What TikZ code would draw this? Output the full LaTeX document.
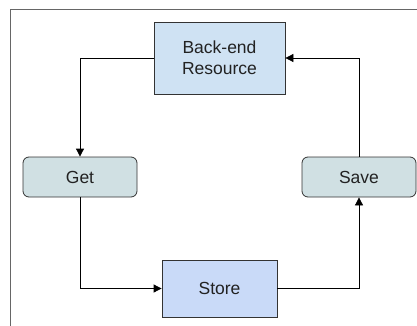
\documentclass[tikz,border=0pt]{standalone}
\usepackage{fontspec}
\setmainfont{Liberation Sans}
\usetikzlibrary{arrows.meta, positioning}
\definecolor{cBack}{HTML}{CFE2F3}
\definecolor{cStore}{HTML}{C9DAF8}
\definecolor{cStep}{HTML}{D0E0E3}
\definecolor{cLine}{HTML}{333333}
\definecolor{cText}{HTML}{222222}
\begin{document}
\begin{tikzpicture}[x=1pt, y=-1pt, line width=0.8pt,
      bx/.style={draw=cLine, align=center, inner sep=0pt, text=cText, font=\fontsize{17.5}{21}\selectfont},
      rbx/.style={bx, rounded corners=6pt, fill=cStep, minimum width=114pt, minimum height=40pt},
      conn/.style={draw=black, -{Triangle[length=8pt,width=8pt]}}]
    \useasboundingbox (0,0) rectangle (417,326);
    % frame
    \draw[draw=gray!80!black] (10.5,326) -- (10.5,9) -- (417,9);
    % steps
    \node[bx, fill=cBack, minimum width=131pt, minimum height=72pt] (backend) at (219.5,58) {Back-end\\Resource};
    \node[rbx] (get)  at (80,177)  {Get};
    \node[rbx] (save) at (359,177) {Save};
    \node[bx, fill=cStore, minimum width=115pt, minimum height=57pt] (store) at (219.5,288.5) {Store};
    % cycle
    \draw[conn] (backend.west) -| (get.north);
    \draw[conn] (get.south) |- (store.west);
    \draw[conn] (store.east) -| (save.south);
    \draw[conn] (save.north) |- (backend.east);
  \end{tikzpicture}
\end{document}
